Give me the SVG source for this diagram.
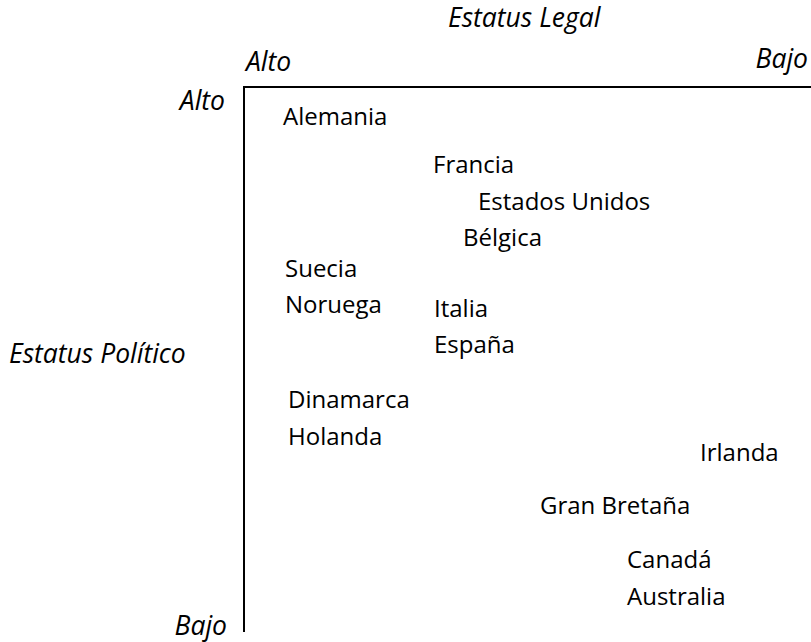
<svg xmlns="http://www.w3.org/2000/svg" width="811" height="642" viewBox="0 0 811 642">
<style>
text{font-family:"Open Sans","Noto Sans",sans-serif;font-size:24px;fill:#000}
.i{font-style:italic;font-size:26.5px}
.e{text-anchor:end}
.ax{stroke:#000;stroke-width:2;fill:none}
</style>
<rect width="811" height="642" fill="#fff"/>
<g id="axes">
<path class="ax" d="M244,632 V87 H811"/>
</g>
<g id="labels">
<text class="i" x="448" y="27">Estatus Legal</text>
<text class="i" x="246" y="71">Alto</text>
<text class="i e" x="808" y="68">Bajo</text>
<text class="i e" x="225" y="110">Alto</text>
<text class="i" x="9" y="363">Estatus Político</text>
<text class="i e" x="227" y="635">Bajo</text>
</g>
<g id="countries">
<text x="283" y="125">Alemania</text>
<text x="433" y="173">Francia</text>
<text x="478" y="210">Estados Unidos</text>
<text x="463" y="246">Bélgica</text>
<text x="285" y="277">Suecia</text>
<text x="285" y="313">Noruega</text>
<text x="434" y="317">Italia</text>
<text x="434" y="353">España</text>
<text x="288" y="408">Dinamarca</text>
<text x="288" y="445">Holanda</text>
<text x="700" y="461">Irlanda</text>
<text x="540" y="514">Gran Bretaña</text>
<text x="627" y="568">Canadá</text>
<text x="627" y="605">Australia</text>
</g>
</svg>
